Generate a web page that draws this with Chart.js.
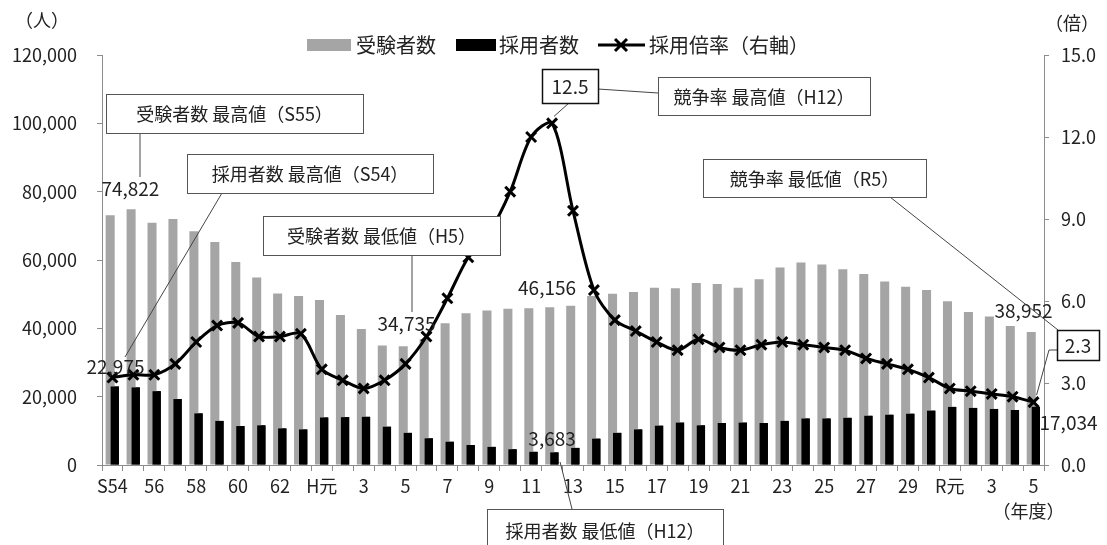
<!DOCTYPE html>
<html lang="ja">
<head>
<meta charset="utf-8">
<title>受験者数・採用者数・採用倍率の推移</title>
<script src="https://cdn.jsdelivr.net/npm/chart.js@4.4.1/dist/chart.umd.min.js"></script>
<style>
  html, body { margin: 0; padding: 0; background: #fff; }
  #wrapper-chart { width: 1107px; height: 545px; }
</style>
</head>
<body>
<div id="wrapper-chart"><canvas id="myChart" width="1107" height="545"></canvas></div>
<script>

  //////////////
 // DONNÉES  //
//////////////

// années (S54 → R5)
const years = ['S54','55','56','57','58','59','60','61','62','63',
  'H元','2','3','4','5','6','7','8','9','10',
  '11','12','13','14','15','16','17','18','19','20',
  '21','22','23','24','25','26','27','28','29','30',
  'R元','2','3','4','5'];

// 受験者数
const applicants = [73100, 74822, 70900, 72000, 68400, 65300, 59400, 54900, 50200, 49500,
  48300, 43900, 39800, 35000, 34735, 36800, 41500, 44400, 45200, 45700,
  45900, 46156, 46600, 49500, 50100, 50600, 51900, 51700, 53300, 53000,
  51900, 54400, 57800, 59300, 58700, 57300, 55900, 53700, 52200, 51200,
  47900, 44800, 43500, 40700, 38952];

// 採用者数
const hired = [22975, 22700, 21600, 19300, 15100, 12900, 11400, 11600, 10700, 10400,
  13900, 14000, 14100, 11200, 9400, 7800, 6800, 5850, 5300, 4600,
  3850, 3683, 5000, 7700, 9400, 10400, 11500, 12400, 11600, 12300,
  12400, 12300, 12900, 13600, 13600, 13800, 14400, 14700, 15000, 15900,
  17000, 16700, 16400, 16100, 17034];

// 採用倍率（右軸）
const ratio = [3.2, 3.3, 3.3, 3.7, 4.5, 5.1, 5.2, 4.7, 4.7, 4.8,
  3.5, 3.1, 2.8, 3.1, 3.7, 4.7, 6.1, 7.6, 8.5, 10.0,
  12.0, 12.5, 9.3, 6.4, 5.3, 4.9, 4.5, 4.2, 4.6, 4.3,
  4.2, 4.4, 4.5, 4.4, 4.3, 4.2, 3.9, 3.7, 3.5, 3.2,
  2.8, 2.7, 2.6, 2.5, 2.3];

// graduations
const leftTicks = [0, 20000, 40000, 60000, 80000, 100000, 120000];
const rightTicks = [0, 3, 6, 9, 12, 15];

const seriesNames = ['受験者数', '採用者数', '採用倍率（右軸）'];


  ////////////////
 // STYLES     //
////////////////

const FONT = "'Noto Sans CJK JP', 'Noto Sans', sans-serif";
const GREY = '#a5a5a5';
const AXIS = '#8c8c8c';
const TEXT = '#222';

Chart.defaults.font.family = FONT;
Chart.defaults.color = TEXT;


  /////////////////////////////
 // PETITES FONCTIONS DESSIN //
/////////////////////////////

function drawBox(ctx, x1, y1, x2, y2, text, size, lw, stroke) {
  ctx.save();
  ctx.fillStyle = '#fff';
  ctx.fillRect(x1, y1, x2 - x1, y2 - y1);
  ctx.lineWidth = lw;
  ctx.strokeStyle = stroke;
  ctx.strokeRect(x1 + 0.5, y1 + 0.5, x2 - x1, y2 - y1);
  ctx.fillStyle = TEXT;
  ctx.font = size + 'px ' + FONT;
  ctx.textAlign = 'center';
  ctx.textBaseline = 'middle';
  ctx.fillText(text, (x1 + x2) / 2, (y1 + y2) / 2 + 1);
  ctx.restore();
}

function drawLeader(ctx, pts) {
  ctx.save();
  ctx.strokeStyle = '#444';
  ctx.lineWidth = 1;
  ctx.beginPath();
  ctx.moveTo(pts[0][0], pts[0][1]);
  pts.slice(1).forEach(p => ctx.lineTo(p[0], p[1]));
  ctx.stroke();
  ctx.restore();
}

function drawText(ctx, text, x, y, size, align) {
  ctx.save();
  ctx.fillStyle = TEXT;
  ctx.font = size + 'px ' + FONT;
  ctx.textAlign = align || 'center';
  ctx.textBaseline = 'middle';
  ctx.fillText(text, x, y);
  ctx.restore();
}

const fmt = v => v.toLocaleString('en-US');


  ///////////////////////////////////////
 // PLUGIN : barres noires au-dessus  //
///////////////////////////////////////

const hiredOnTop = {
  id: 'hiredOnTop',
  afterDatasetDraw(chart, args) {
    if (args.index === 1) chart.getDatasetMeta(2).controller.draw();
  }
};


  //////////////////////////////////////
 // PLUGIN : légende + annotations   //
//////////////////////////////////////

const annotations = {
  id: 'annotations',
  afterDraw(chart) {
    const ctx = chart.ctx;
    const xs = chart.scales.x;
    const yl = chart.scales.y;
    const yr = chart.scales.y2;
    const px = i => xs.getPixelForValue(i);

    const iS54 = 0, iS55 = 1, iH5 = 14, iH12 = 21, iR5 = 44;

    // légende
    const ly = 45;
    ctx.save();
    ctx.fillStyle = GREY;
    ctx.fillRect(307, ly - 6, 44, 12);
    ctx.fillStyle = '#000';
    ctx.fillRect(456, ly - 6, 40, 12);
    ctx.strokeStyle = '#000';
    ctx.lineWidth = 3;
    ctx.beginPath();
    ctx.moveTo(598, ly); ctx.lineTo(645, ly);
    ctx.moveTo(615, ly - 6); ctx.lineTo(627, ly + 6);
    ctx.moveTo(627, ly - 6); ctx.lineTo(615, ly + 6);
    ctx.stroke();
    ctx.restore();
    drawText(ctx, seriesNames[0], 356, ly, 20, 'left');
    drawText(ctx, seriesNames[1], 499, ly, 20, 'left');
    drawText(ctx, seriesNames[2], 649, ly, 20, 'left');

    // unités
    drawText(ctx, '（人）', 42, 20, 18);
    drawText(ctx, '（倍）', 1072, 23, 18);
    drawText(ctx, '（年度）', px(iR5) - 5, 511, 18);

    // valeurs
    drawText(ctx, fmt(applicants[iS55]), px(iS55) - 3, yl.getPixelForValue(applicants[iS55]) - 21, 19);
    drawText(ctx, fmt(hired[iS54]), px(iS54) + 3, yl.getPixelForValue(hired[iS54]) - 20, 19);
    drawText(ctx, fmt(applicants[iH5]), px(iH5) + 1, yl.getPixelForValue(applicants[iH5]) - 23, 19);
    drawText(ctx, fmt(applicants[iH12]), px(iH12) - 5, yl.getPixelForValue(applicants[iH12]) - 20, 19);
    drawText(ctx, fmt(hired[iH12]), px(iH12), yl.getPixelForValue(hired[iH12]) - 14, 19);
    drawText(ctx, fmt(applicants[iR5]), px(iR5) - 10, yl.getPixelForValue(applicants[iR5]) - 21, 19);
    drawText(ctx, fmt(hired[iR5]), px(iR5) + 35, yl.getPixelForValue(hired[iR5]) + 16, 19);

    // traits de rappel
    const h12 = yr.getPixelForValue(ratio[iH12]);
    const r5 = yr.getPixelForValue(ratio[iR5]);
    drawLeader(ctx, [[140, 133], [140, 177]]);
    drawLeader(ctx, [[222, 193], [125, 357]]);
    drawLeader(ctx, [[412, 255], [412, 312]]);
    drawLeader(ctx, [[569, 103], [px(iH12) + 2, h12 - 7]]);
    drawLeader(ctx, [[598, 89], [658, 93]]);
    drawLeader(ctx, [[890, 197], [1058, 330]]);
    drawLeader(ctx, [[1057, 350], [1049, 350], [px(iR5) + 3, r5 - 7]]);
    drawLeader(ctx, [[px(iH12) + 8, 462], [572, 509]]);

    // encadrés
    drawBox(ctx, 106, 94, 363, 133, '受験者数 最高値（S55）', 18, 1, '#555');
    drawBox(ctx, 187, 154, 433, 193, '採用者数 最高値（S54）', 18, 1, '#555');
    drawBox(ctx, 263, 216, 500, 255, '受験者数 最低値（H5）', 18, 1, '#555');
    drawBox(ctx, 658, 77, 870, 115, '競争率 最高値（H12）', 18, 1, '#555');
    drawBox(ctx, 703, 159, 926, 197, '競争率 最低値（R5）', 18, 1, '#555');
    drawBox(ctx, 487, 509, 723, 552, '採用者数 最低値（H12）', 18, 1, '#555');
    drawBox(ctx, 542, 69, 598, 103, ratio[iH12].toFixed(1), 19, 1.5, '#111');
    drawBox(ctx, 1057, 330, 1099, 360, ratio[iR5].toFixed(1), 19, 1.5, '#111');
  }
};


  /////////////////////////
 // GRAPHIQUE CHART.JS  //
/////////////////////////

const ctx = document.getElementById('myChart').getContext('2d');

new Chart(ctx, {
  type: 'bar',
  data: {
    labels: years,
    datasets: [
      {
        type: 'line',
        label: seriesNames[2],
        data: ratio,
        yAxisID: 'y2',
        borderColor: '#000',
        borderWidth: 3,
        tension: 0.3,
        pointStyle: 'crossRot',
        pointRadius: 7,
        pointBorderWidth: 3,
        pointBorderColor: '#000',
        pointBackgroundColor: '#000'
      },
      {
        label: seriesNames[0],
        data: applicants,
        yAxisID: 'y',
        backgroundColor: GREY,
        categoryPercentage: 0.44,
        barPercentage: 1.96
      },
      {
        label: seriesNames[1],
        data: hired,
        yAxisID: 'y',
        backgroundColor: '#000',
        categoryPercentage: 0.44,
        barPercentage: 1.8
      }
    ]
  },
  options: {
    responsive: false,
    animation: false,
    devicePixelRatio: 1,
    layout: { padding: { top: 55, left: 0, right: 0, bottom: 0 } },
    plugins: {
      legend: { display: false },
      tooltip: { enabled: false }
    },
    scales: {
      x: {
        grid: { display: true, drawOnChartArea: false, drawTicks: true, tickLength: 6, color: AXIS, offset: true },
        border: { display: true, color: AXIS, width: 1 },
        ticks: {
          autoSkip: false, maxRotation: 0, minRotation: 0, padding: 4,
          font: { size: 18 }, color: TEXT,
          callback: (v, i) => (i % 2 === 0 ? years[i] : '')
        },
        afterFit: s => { s.height = 80; }
      },
      y: {
        position: 'left',
        min: leftTicks[0],
        max: leftTicks[leftTicks.length - 1],
        afterBuildTicks: s => { s.ticks = leftTicks.map(v => ({ value: v })); },
        grid: { display: true, drawOnChartArea: false, drawTicks: true, tickLength: 5, color: AXIS },
        border: { display: true, color: AXIS, width: 1 },
        ticks: { padding: 20, font: { size: 18 }, color: TEXT, callback: v => fmt(v) },
        afterFit: s => { s.width = 102; }
      },
      y2: {
        position: 'right',
        min: rightTicks[0],
        max: rightTicks[rightTicks.length - 1],
        afterBuildTicks: s => { s.ticks = rightTicks.map(v => ({ value: v })); },
        grid: { display: true, drawOnChartArea: false, drawTicks: true, tickLength: 5, color: AXIS },
        border: { display: true, color: AXIS, width: 1 },
        ticks: { padding: 12, font: { size: 18 }, color: TEXT, callback: v => v.toFixed(1) },
        afterFit: s => { s.width = 63; }
      }
    }
  },
  plugins: [hiredOnTop, annotations]
});

</script>
</body>
</html>
